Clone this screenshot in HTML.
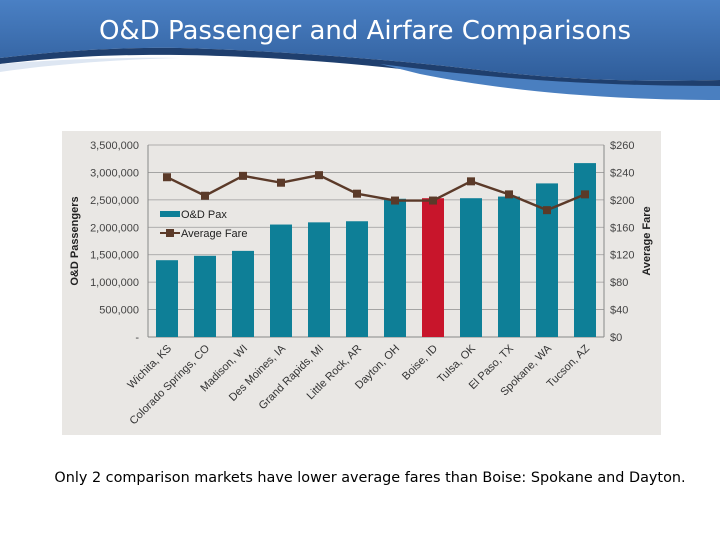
<!DOCTYPE html>
<html><head><meta charset="utf-8"><style>
body{margin:0;width:720px;height:540px;background:#fff;overflow:hidden;font-family:"Liberation Sans",sans-serif;}
</style></head><body>
<svg width="720" height="540" viewBox="0 0 720 540" xmlns="http://www.w3.org/2000/svg">
<defs><linearGradient id="hg" x1="0" y1="0" x2="0" y2="1"><stop offset="0" stop-color="#4a80c4"/><stop offset="1" stop-color="#2f5d9a"/></linearGradient></defs>
<g>
<path d="M0 0H720V80C640 82 560 80 480 70C380 58 260 50 180 48C110 47 50 52 0 58Z" fill="url(#hg)"/>
<path d="M0 58C50 52 110 47 180 48C260 50 380 58 480 70C560 80 640 82 720 80V88C640 92 560 90 470 78C380 64 260 56 180 55C110 54 50 58 0 64Z" fill="#1f3f6e"/>
<path d="M380 64C460 74 560 86 720 86V100C600 100 500 90 420 74Z" fill="#4a7fc0"/>
<path d="M0 64C50 60 110 57 180 58C100 60 40 66 0 72Z" fill="#dde6f2"/>
</g>
<text x="365" y="39" text-anchor="middle" font-size="26" fill="#fff" font-family="'DejaVu Sans','Liberation Sans',sans-serif">O&amp;D Passenger and Airfare Comparisons</text>
<rect x="62" y="131" width="599" height="304" fill="#e9e7e4"/>
<g id="chart"></g>
<text x="370" y="482" text-anchor="middle" font-size="14.4" fill="#000" font-family="'DejaVu Sans','Liberation Sans',sans-serif">Only 2 comparison markets have lower average fares than Boise: Spokane and Dayton.</text>
</svg>
<script>
const categories=["Wichita, KS","Colorado Springs, CO","Madison, WI","Des Moines, IA","Grand Rapids, MI","Little Rock, AR","Dayton, OH","Boise, ID","Tulsa, OK","El Paso, TX","Spokane, WA","Tucson, AZ"];
const paxValues=[1400000,1480000,1570000,2050000,2090000,2110000,2520000,2530000,2530000,2560000,2800000,3170000];
const fareValues=[233,206,235,225,236,209,199,199,227,208,185,208];
const paxTicks=[0,500000,1000000,1500000,2000000,2500000,3000000,3500000];
const paxTickLabels=["-","500,000","1,000,000","1,500,000","2,000,000","2,500,000","3,000,000","3,500,000"];
const fareTicks=[0,40,80,120,160,200,240,280];
const fareTickLabels=["$0","$40","$80","$120","$160","$200","$240","$260"];
const highlight="Boise, ID";
const NS="http://www.w3.org/2000/svg",g=document.getElementById('chart');
const L=148,R=604,T=145,B=337,bw=(R-L)/categories.length;
const yP=v=>B-(v/3500000)*(B-T), yF=v=>B-(v/280)*(B-T), xC=i=>L+bw*(i+0.5);
function mk(t,a){const e=document.createElementNS(NS,t);for(const k in a)e.setAttribute(k,a[k]);g.appendChild(e);return e;}
paxTicks.forEach((v,i)=>{
 if(v>0){const l=mk('line',{x1:L,x2:R,y1:yP(v),y2:yP(v),stroke:'#9a9a9a','stroke-width':0.8});}
 const t=mk('text',{x:L-9,y:yP(v)+4,'text-anchor':'end','font-size':11,fill:'#444'});t.textContent=paxTickLabels[i];
 
});
fareTicks.forEach((v,i)=>{
 const t=mk('text',{x:R+6,y:yF(v)+4,'font-size':11,fill:'#444'});t.textContent=fareTickLabels[i];
 
});
[L,R].forEach(a=>{const l=mk('line',{x1:a,x2:a,y1:T,y2:B,stroke:'#888','stroke-width':1});});
const xl=mk('line',{x1:L,x2:R,y1:B,y2:B,stroke:'#888','stroke-width':1});
categories.forEach((c,i)=>{
 const y=yP(paxValues[i]);
 const r=mk('rect',{x:xC(i)-11,y:y,width:22,height:B-y,fill:c===highlight?'#c8152b':'#0e7f97'});
 
 const t=mk('text',{x:xC(i)+5,y:B+12,'text-anchor':'end','font-size':11,fill:'#333',transform:`rotate(-45 ${xC(i)+5} ${B+12})`});t.textContent=c;
 
});
const pl=mk('polyline',{points:fareValues.map((v,i)=>xC(i)+','+yF(v)).join(' '),fill:'none',stroke:'#5b3a29','stroke-width':2.4});

fareValues.forEach((v,i)=>{const m=mk('rect',{x:xC(i)-4,y:yF(v)-4,width:8,height:8,fill:'#5b3a29'});});
const t1=mk('text',{x:78,y:241,'text-anchor':'middle','font-size':11,'font-weight':'bold',fill:'#222',transform:'rotate(-90 78 241)'});t1.textContent='O&D Passengers';

const t2=mk('text',{x:650,y:241,'text-anchor':'middle','font-size':11,'font-weight':'bold',fill:'#222',transform:'rotate(-90 650 241)'});t2.textContent='Average Fare';

const lg1=mk('rect',{x:160,y:211,width:20,height:6,fill:'#0e7f97'});
const lt1=mk('text',{x:181,y:218,'font-size':11,fill:'#222'});lt1.textContent='O&D Pax';
const lg2=mk('line',{x1:160,x2:180,y1:233,y2:233,stroke:'#5b3a29','stroke-width':2});
const lg3=mk('rect',{x:166,y:229,width:8,height:8,fill:'#5b3a29'});
const lt2=mk('text',{x:181,y:237,'font-size':11,fill:'#222'});lt2.textContent='Average Fare';
</script>
</body></html>
